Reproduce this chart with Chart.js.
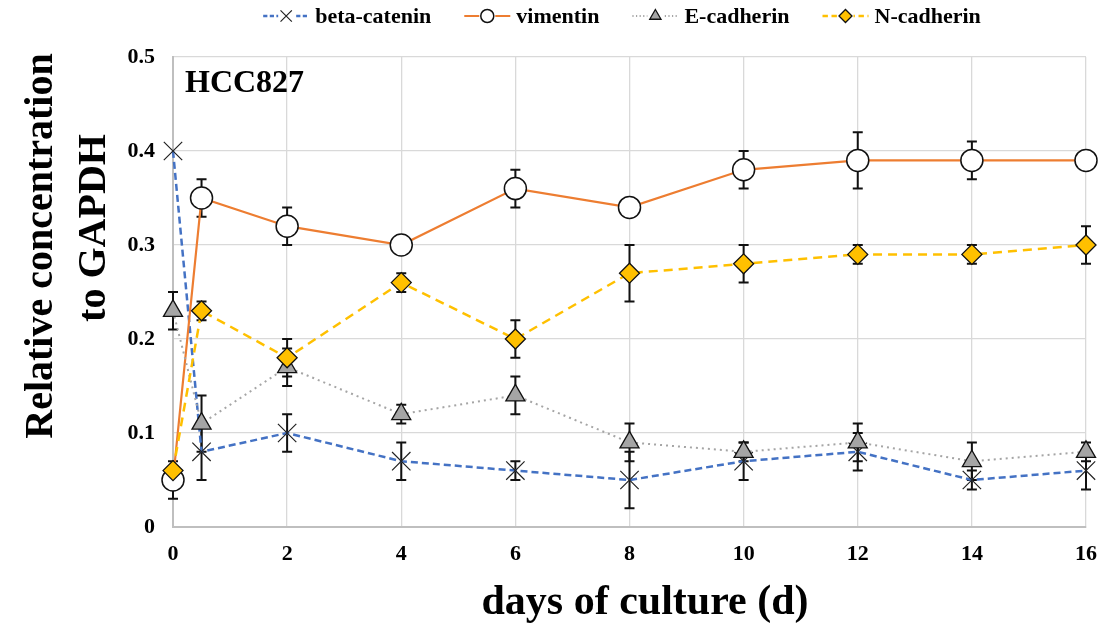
<!DOCTYPE html>
<html>
<head>
<meta charset="utf-8">
<title>HCC827 marker expression</title>
<script src="https://cdn.jsdelivr.net/npm/chart.js@4/dist/chart.umd.min.js"></script>
<style>
  html, body { margin: 0; padding: 0; background: #fff; }
  #wrap { width: 1111px; height: 632px; }
</style>
</head>
<body>
<div id="wrap"><canvas id="markerChart"></canvas></div>
<script>
// days of culture
const days = [0, 0.5, 2, 4, 6, 8, 10, 12, 14, 16];

// relative concentration to GAPDH, mean and error
const betaCatenin = [0.40, 0.08, 0.10, 0.07, 0.06, 0.05, 0.07, 0.08, 0.05, 0.06];
const betaCateninErr = [0, 0.03, 0.02, 0.02, 0.01, 0.03, 0.02, 0.02, 0.01, 0.02];
const vimentin = [0.05, 0.35, 0.32, 0.30, 0.36, 0.34, 0.38, 0.39, 0.39, 0.39];
const vimentinErr = [0.02, 0.02, 0.02, 0.005, 0.02, 0.01, 0.02, 0.03, 0.02, 0];
const eCadherin = [0.23, 0.11, 0.17, 0.12, 0.14, 0.09, 0.08, 0.09, 0.07, 0.08];
const eCadherinErr = [0.02, 0.03, 0.02, 0.01, 0.02, 0.02, 0.01, 0.02, 0.02, 0.01];
const nCadherin = [0.06, 0.23, 0.18, 0.26, 0.20, 0.27, 0.28, 0.29, 0.29, 0.30];
const nCadherinErr = [0, 0.01, 0.02, 0.01, 0.02, 0.03, 0.02, 0.01, 0.01, 0.02];

const yTicks = [0, 0.1, 0.2, 0.3, 0.4, 0.5];
const xTicks = [0, 2, 4, 6, 8, 10, 12, 14, 16];

const SERIF = "'Liberation Serif', 'Times New Roman', serif";

function toPoints(values) {
  return values.map((v, i) => ({ x: days[i], y: v }));
}

const datasets = [
  {
    label: "beta-catenin",
    data: toPoints(betaCatenin),
    errors: betaCateninErr,
    borderColor: "#4472C4",
    borderWidth: 2.5,
    borderDash: [7, 4],
    pointStyle: "crossRot",
    pointRadius: 13,
    pointBorderColor: "#222",
    pointBackgroundColor: "#222",
    pointBorderWidth: 1.2,
    order: 3,
  },
  {
    label: "vimentin",
    data: toPoints(vimentin),
    errors: vimentinErr,
    borderColor: "#ED7D31",
    borderWidth: 2.2,
    pointStyle: "circle",
    pointRadius: 11,
    pointBorderColor: "#111",
    pointBackgroundColor: "#fff",
    pointBorderWidth: 1.5,
    order: 2,
  },
  {
    label: "E-cadherin",
    data: toPoints(eCadherin),
    errors: eCadherinErr,
    borderColor: "#A5A5A5",
    borderWidth: 2,
    borderDash: [2, 4],
    pointStyle: "triangle",
    pointRadius: 11,
    pointBorderColor: "#111",
    pointBackgroundColor: "#A5A5A5",
    pointBorderWidth: 1.3,
    order: 1,
  },
  {
    label: "N-cadherin",
    data: toPoints(nCadherin),
    errors: nCadherinErr,
    borderColor: "#FFC000",
    borderWidth: 2.5,
    borderDash: [9, 6],
    pointStyle: "rectRot",
    pointRadius: 10,
    pointBorderColor: "#111",
    pointBackgroundColor: "#FFC000",
    pointBorderWidth: 1.3,
    order: 0,
  },
];

// black error bars with caps, drawn under the lines and markers
const errorBars = {
  id: "errorBars",
  beforeDatasetsDraw(chart) {
    const { ctx, scales: { x, y } } = chart;
    ctx.save();
    ctx.strokeStyle = "#111";
    ctx.lineWidth = 2;
    chart.data.datasets.forEach((ds) => {
      ds.data.forEach((p, i) => {
        const e = ds.errors[i];
        if (!e) return;
        const px = x.getPixelForValue(p.x);
        const top = y.getPixelForValue(p.y + e);
        const bot = y.getPixelForValue(p.y - e);
        ctx.beginPath();
        ctx.moveTo(px, top);
        ctx.lineTo(px, bot);
        ctx.moveTo(px - 5, top);
        ctx.lineTo(px + 5, top);
        ctx.moveTo(px - 5, bot);
        ctx.lineTo(px + 5, bot);
        ctx.stroke();
      });
    });
    ctx.restore();
  },
};

// axis titles, cell line label and the legend row (line sample + marker)
const decorations = {
  id: "decorations",
  afterDraw(chart) {
    const { ctx, chartArea } = chart;
    ctx.save();
    ctx.fillStyle = "#000";
    ctx.textBaseline = "middle";

    // y title, two rotated lines
    ctx.font = "bold 40px " + SERIF;
    ctx.textAlign = "center";
    ctx.save();
    ctx.translate(42, 246);
    ctx.rotate(-Math.PI / 2);
    ctx.fillText("Relative concentration", 0, 0);
    ctx.restore();
    ctx.save();
    ctx.translate(95, 228);
    ctx.rotate(-Math.PI / 2);
    ctx.fillText("to GAPDH", 0, 0);
    ctx.restore();

    // x title
    ctx.font = "bold 42px " + SERIF;
    ctx.fillText("days of culture (d)", 645, 603);

    ctx.font = "bold 32px " + SERIF;
    ctx.textAlign = "left";
    ctx.fillText("HCC827", chartArea.left + 12, chartArea.top + 27);

    ctx.font = "bold 22px " + SERIF;
    const sample = 46, gap = 6, spacing = 33, ly = 16;
    const items = chart.data.datasets;
    const widths = items.map((d) => sample + gap + ctx.measureText(d.label).width);
    const total = widths.reduce((a, b) => a + b, 0) + spacing * (items.length - 1);
    let lx = 622 - total / 2;
    items.forEach((d, i) => {
      ctx.save();
      ctx.strokeStyle = d.borderColor;
      ctx.lineWidth = d.borderWidth;
      ctx.setLineDash(d.borderDash ? d.borderDash.map((v) => v * 0.6) : []);
      ctx.beginPath();
      ctx.moveTo(lx, ly);
      ctx.lineTo(lx + sample, ly);
      ctx.stroke();
      ctx.setLineDash([]);
      ctx.fillStyle = "#fff";
      ctx.fillRect(lx + sample / 2 - 8, ly - 8, 16, 16);
      ctx.strokeStyle = d.pointBorderColor;
      ctx.fillStyle = d.pointBackgroundColor;
      ctx.lineWidth = d.pointBorderWidth;
      Chart.helpers.drawPoint(ctx, {
        pointStyle: d.pointStyle,
        radius: d.pointStyle === "crossRot" ? 8 : 6.5,
        rotation: 0,
        borderWidth: d.pointBorderWidth,
      }, lx + sample / 2, ly);
      ctx.restore();
      ctx.fillStyle = "#000";
      ctx.fillText(d.label, lx + sample + gap, ly + 1);
      lx += widths[i] + spacing;
    });
    ctx.restore();
  },
};

new Chart(document.getElementById("markerChart").getContext("2d"), {
  type: "line",
  data: { datasets },
  plugins: [errorBars, decorations],
  options: {
    responsive: true,
    maintainAspectRatio: false,
    animation: false,
    layout: { padding: { top: 57, right: 18, left: 0, bottom: 0 } },
    datasets: { line: { clip: false, tension: 0, fill: false } },
    plugins: {
      legend: { display: false },
      tooltip: { enabled: false },
    },
    scales: {
      x: {
        type: "linear",
        min: 0,
        max: 16,
        afterFit(scale) { scale.height = 105; },
        afterBuildTicks(scale) { scale.ticks = xTicks.map((v) => ({ value: v })); },
        grid: { color: "#d9d9d9", lineWidth: 1.3, drawTicks: false },
        border: { color: "#bfbfbf", width: 2 },
        ticks: {
          padding: 14,
          color: "#000",
          font: { family: SERIF, size: 22, weight: "bold" },
        },
      },
      y: {
        min: 0,
        max: 0.5,
        afterFit(scale) { scale.width = 173; },
        afterBuildTicks(scale) { scale.ticks = yTicks.map((v) => ({ value: v })); },
        grid: { color: "#d9d9d9", lineWidth: 1.3, drawTicks: false },
        border: { color: "#bfbfbf", width: 2 },
        ticks: {
          padding: 18,
          color: "#000",
          font: { family: SERIF, size: 22, weight: "bold" },
          callback: (v) => (v === 0 ? "0" : v.toFixed(1)),
        },
      },
    },
  },
});
</script>
</body>
</html>
